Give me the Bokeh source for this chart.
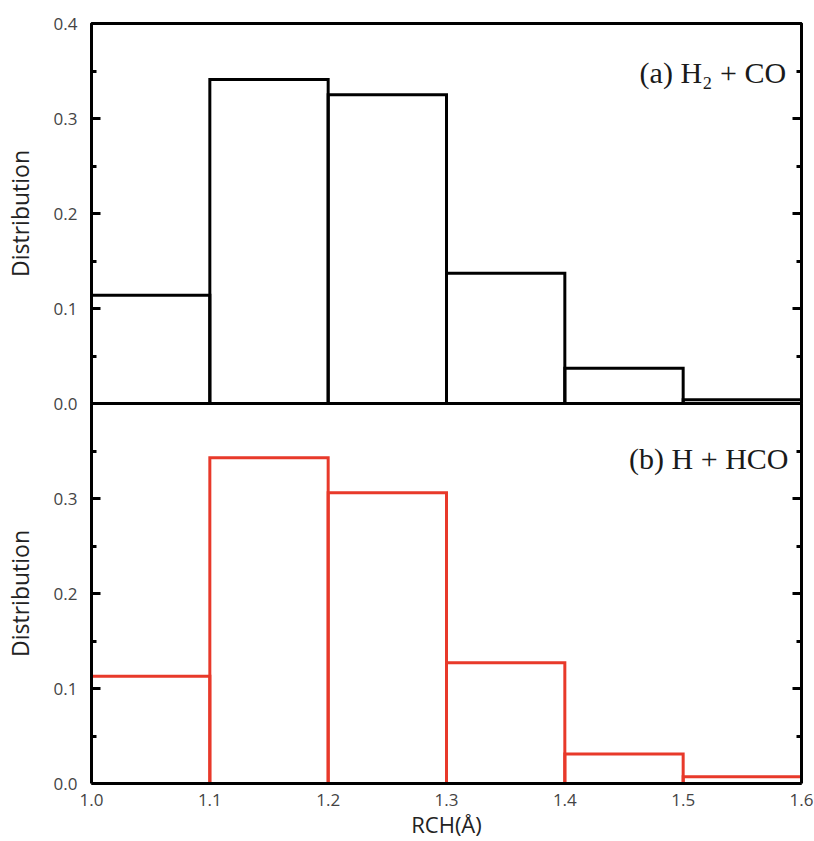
from bokeh.plotting import figure
from bokeh.layouts import column
from bokeh.models import (LinearAxis, FixedTicker, Range1d, Label, ColumnDataSource,
                          PrintfTickFormatter, CustomJSTickFormatter)
from bokeh.embed import file_html
from bokeh.resources import INLINE

bin_left = [1.0, 1.1, 1.2, 1.3, 1.4, 1.5]
bin_right = [1.1, 1.2, 1.3, 1.4, 1.5, 1.6]
dist_a = [0.114, 0.341, 0.325, 0.137, 0.037, 0.004]
dist_b = [0.113, 0.343, 0.306, 0.127, 0.031, 0.007]
x_ticks = [1.0, 1.1, 1.2, 1.3, 1.4, 1.5, 1.6]
y_ticks_a = [0.0, 0.1, 0.2, 0.3, 0.4]
y_ticks_b = [0.0, 0.1, 0.2, 0.3]
y_minor = [0.05, 0.15, 0.25, 0.35]

SANS = "Open Sans"
SERIF = "Liberation Serif"
TICK_COLOR = "#444444"

xr = Range1d(1.0, 1.6)
OVERLAP = 14


def style_yaxis(ax, ticks, labels=True):
    ax.ticker = FixedTicker(ticks=ticks, minor_ticks=y_minor)
    ax.axis_line_color = "black"
    ax.axis_line_width = 3
    ax.major_tick_in = 9
    ax.major_tick_out = 0
    ax.minor_tick_in = 5
    ax.minor_tick_out = 0
    ax.major_tick_line_width = 3
    ax.minor_tick_line_width = 3
    ax.major_tick_line_color = "black"
    ax.minor_tick_line_color = "black"
    if labels:
        ax.formatter = PrintfTickFormatter(format="%.1f")
        ax.major_label_text_font = SANS
        ax.major_label_text_font_size = "17px"
        ax.major_label_text_color = TICK_COLOR
        ax.major_label_standoff = 14
        ax.axis_label = "Distribution"
        ax.axis_label_text_font = SANS
        ax.axis_label_text_font_size = "23px"
        ax.axis_label_text_font_style = "normal"
        ax.axis_label_text_color = "#222222"
        ax.axis_label_standoff = 15
    else:
        ax.formatter = CustomJSTickFormatter(code="return ''")
        ax.major_label_standoff = 0


def make_fig(values, color, ticks, top_border, bottom_border, show_x):
    p = figure(width=814, height=top_border + 380 + bottom_border,
               frame_width=710, frame_height=380,
               x_range=xr, y_range=Range1d(0, 0.4),
               output_backend="svg", toolbar_location=None,
               x_axis_location="below" if show_x else None,
               min_border_left=91, min_border_right=13,
               min_border_top=top_border, min_border_bottom=bottom_border)
    p.grid.visible = False
    style_yaxis(p.yaxis[0], ticks, labels=True)
    rax = LinearAxis()
    style_yaxis(rax, ticks, labels=False)
    p.add_layout(rax, "right")
    src = ColumnDataSource(dict(left=bin_left, right=bin_right, top=values,
                                bottom=[0] * len(values)))
    p.quad(left="left", right="right", top="top", bottom="bottom", source=src,
           fill_alpha=0, line_color=color, line_width=3, line_join="miter")
    if show_x:
        xa = p.xaxis[0]
        xa.ticker = FixedTicker(ticks=x_ticks, minor_ticks=[])
        xa.formatter = PrintfTickFormatter(format="%.1f")
        xa.axis_line_color = "black"
        xa.axis_line_width = 3
        xa.major_tick_in = 0
        xa.major_tick_out = 0
        xa.major_label_text_font = SANS
        xa.major_label_text_font_size = "17px"
        xa.major_label_text_color = TICK_COLOR
        xa.major_label_standoff = 10
        xa.axis_label = "RCH(Å)"
        xa.axis_label_text_font = SANS
        xa.axis_label_text_font_size = "22px"
        xa.axis_label_text_font_style = "normal"
        xa.axis_label_text_color = "#222222"
        xa.axis_label_standoff = 0
        p.outline_line_color = None
        p.border_fill_alpha = 0
        p.background_fill_alpha = 0
    else:
        p.outline_line_color = "black"
        p.outline_line_width = 3
        p.border_fill_color = "white"
    return p


p1 = make_fig(dist_a, "black", y_ticks_a, 23, OVERLAP, False)
p1.add_layout(Label(x=1.587, y=0.348, text="(a) H₂ + CO", text_align="right",
                    text_baseline="middle", text_font=SERIF,
                    text_font_size="30px", text_color="#1a1a1a"))

p2 = make_fig(dist_b, "#e8392a", y_ticks_b, 0, 58, True)
p2.styles = {"margin-top": f"-{OVERLAP}px"}
p2.add_layout(Label(x=1.589, y=0.342, text="(b) H + HCO", text_align="right",
                    text_baseline="middle", text_font=SERIF,
                    text_font_size="30px", text_color="#1a1a1a"))

layout = column(p1, p2, spacing=0)
open("out.html", "w").write(file_html(layout, INLINE))
